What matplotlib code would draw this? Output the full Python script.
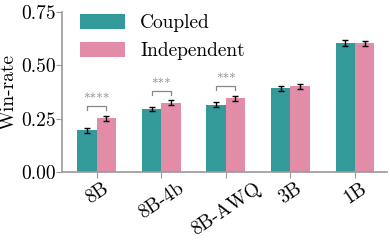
import numpy as np
import matplotlib
matplotlib.use("Agg")
import matplotlib.pyplot as plt

plt.rcParams['font.family'] = 'serif'
plt.rcParams['font.serif'] = ['cmr10']
plt.rcParams['mathtext.fontset'] = 'cm'
plt.rcParams['axes.formatter.use_mathtext'] = True

# Data
models = ["8B", "8B-4b", "8B-AWQ", "3B", "1B"]
coupled = [0.195, 0.295, 0.315, 0.393, 0.606]
coupled_err = [0.011, 0.011, 0.012, 0.012, 0.013]
independent = [0.252, 0.324, 0.345, 0.402, 0.603]
independent_err = [0.012, 0.012, 0.013, 0.013, 0.013]
signif = {0: "****", 1: "***", 2: "***"}

TEAL = "teal"
PINK = "palevioletred"
GRAY = "#888888"

x = np.arange(len(models))
w = 0.3

fig, ax = plt.subplots(figsize=(3.9, 2.4), dpi=100)
fig.subplots_adjust(left=0.16, right=0.993, top=0.95, bottom=0.283)

ax.bar(x - w / 2, coupled, w, color=TEAL, alpha=0.8, label="Coupled")
ax.bar(x + w / 2, independent, w, color=PINK, alpha=0.8, label="Independent")
ax.errorbar(x - w / 2, coupled, yerr=coupled_err, fmt="none", ecolor="black",
            elinewidth=1, capsize=2.5, capthick=1)
ax.errorbar(x + w / 2, independent, yerr=independent_err, fmt="none", ecolor="black",
            elinewidth=1, capsize=2.5, capthick=1)

# significance brackets
for i, stars in signif.items():
    y = independent[i] + 0.056
    x0, x1 = i - w / 2, i + w / 2
    ax.plot([x0, x0, x1, x1], [y - 0.018, y, y, y - 0.018], color=GRAY, lw=0.9)
    ax.text(i, y + 0.002, stars, ha="center", va="bottom", color=GRAY, fontsize=9.5)

ax.set_xlim(-0.53, 4.5)
ax.set_ylim(0, 0.75)
ax.set_yticks([0, 0.25, 0.5, 0.75])
ax.set_yticklabels(["0.00", "0.25", "0.50", "0.75"], fontsize=14)
ax.set_xticks(x)
ax.set_xticklabels(models, fontsize=14, rotation=34)
ax.set_ylabel("Win-rate", fontsize=14, labelpad=2)

for s in ["top", "right"]:
    ax.spines[s].set_visible(False)
for s in ["left", "bottom"]:
    ax.spines[s].set_color("#999999")
    ax.spines[s].set_linewidth(1.2)
ax.tick_params(colors="#999999", labelcolor="black", length=4, pad=1)

ax.legend(loc="upper left", frameon=False, fontsize=14, handlelength=2.3,
          handleheight=0.8, bbox_to_anchor=(0.0, 1.095), labelspacing=0.5,
          handletextpad=0.8)

fig.savefig("out.png", dpi=100)
